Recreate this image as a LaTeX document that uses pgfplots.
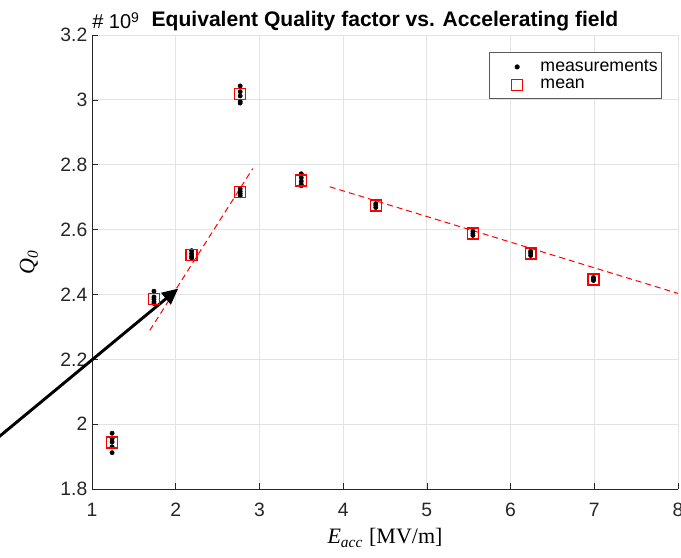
\documentclass[border=0pt]{standalone}
\usepackage{pgfplots}
\pgfplotsset{compat=1.18}
\usepackage{fontspec}
\setmainfont{Liberation Sans}
\newfontfamily\timesfont{Liberation Serif}
\usetikzlibrary{arrows.meta,calc}
\definecolor{mgrid}{HTML}{E3E3E3}
\definecolor{maxis}{HTML}{262626}
\definecolor{mred}{HTML}{FF0000}

% measurements (Eacc, Q0 in 1e9)
\pgfplotstableread{
x y
1.24 1.972
1.24 1.955
1.24 1.945
1.24 1.930
1.24 1.912
1.74 2.410
1.74 2.392
1.74 2.385
1.74 2.377
1.74 2.372
2.19 2.535
2.19 2.526
2.19 2.518
2.19 2.512
2.77 2.726
2.77 2.718
2.77 2.711
2.77 2.704
2.77 3.043
2.77 3.025
2.77 3.012
2.77 2.995
2.77 2.990
3.50 2.772
3.50 2.760
3.50 2.749
3.50 2.739
3.50 2.735
4.39 2.680
4.39 2.675
4.39 2.668
5.55 2.595
5.55 2.588
5.55 2.582
6.24 2.533
6.24 2.527
6.24 2.520
6.99 2.452
6.99 2.447
6.99 2.443
}\meas

\pgfplotstableread{
x y
1.24 1.943
1.74 2.385
2.19 2.521
2.77 2.715
2.77 3.018
3.50 2.751
4.39 2.674
5.55 2.588
6.24 2.526
6.99 2.446
}\means

\begin{document}
\begin{tikzpicture}
\begin{axis}[
 width=439.5pt,height=340.5pt,scale only axis,
 xmin=1,xmax=8,ymin=1.8,ymax=3.2,
 xtick={1,2,...,8},
 ytick={1.8,2.0,2.2,2.4,2.6,2.8,3.0,3.2},
 yticklabels={1.8,2,2.2,2.4,2.6,2.8,3,3.2},
 scaled y ticks=false,
 axis lines*=left,
 axis line style={-,draw=maxis,line width=0.6pt},
 tick align=inside,major tick length=4.5pt,
 tick style={draw=maxis,line width=0.5pt},
 grid=major,grid style={draw=mgrid,line width=0.6pt},
 /pgf/number format/assume math mode=true,
 tick label style={font=\fontsize{14.5}{16}\selectfont,text=maxis},
 xticklabel style={yshift=-7pt},
 xlabel={{\timesfont\itshape E\textsubscript{acc}} {\timesfont [MV/m]}},
 ylabel={{\timesfont\itshape Q\textsubscript{0}}},
 label style={font=\fontsize{16.5}{18}\selectfont},
 xlabel style={yshift=-2pt},
 ylabel style={yshift=10pt},
 title={\bfseries Equivalent Quality factor vs. Accelerating field},
 title style={font=\fontsize{15.8}{18}\selectfont,yshift=-6.5pt},
 legend image code/.code={\path (-19pt,0) (5pt,0); \draw[#1] plot coordinates {(0pt,0pt)};},
 legend style={at={(0.973,0.963)},anchor=north east,draw=gray!70!black,
   line width=0.6pt,fill=white,font=\fontsize{13.3}{15}\selectfont,
   inner xsep=1pt,inner ysep=4pt,row sep=0pt,column sep=10pt},
 legend cell align=left,
 clip=false]
\addplot[only marks,mark=*,mark size=1.6pt,color=black] table {\meas};
\addplot[only marks,mark=square,mark size=4.1pt,color=mred,line width=1pt] table {\means};
\addplot[mred,dashed,line width=0.75pt,dash pattern=on 4.5pt off 3pt,forget plot] coordinates {(1.69,2.289) (2.92,2.788)};
\addplot[mred,dashed,line width=0.75pt,dash pattern=on 4.5pt off 3pt,forget plot] coordinates {(3.84,2.732) (8.0,2.403)};
\legend{measurements,mean}
\draw[line width=2.2pt,-{Triangle[length=12pt,width=11pt]}] (axis cs:-0.2,1.942) -- (axis cs:2.03,2.418);
\node[anchor=base west,inner sep=0pt,yshift=4.5pt,font=\fontsize{15}{17}\selectfont] at (rel axis cs:0,1) {\# 10\textsuperscript{9}};
\coordinate (bl) at (rel axis cs:0,0);
\coordinate (tr) at (rel axis cs:1,1);
\end{axis}
\pgfresetboundingbox
\useasboundingbox ($(bl)+(-69pt,-51.75pt)$) rectangle ($(tr)+(2.25pt,26.25pt)$);
\end{tikzpicture}
\end{document}
